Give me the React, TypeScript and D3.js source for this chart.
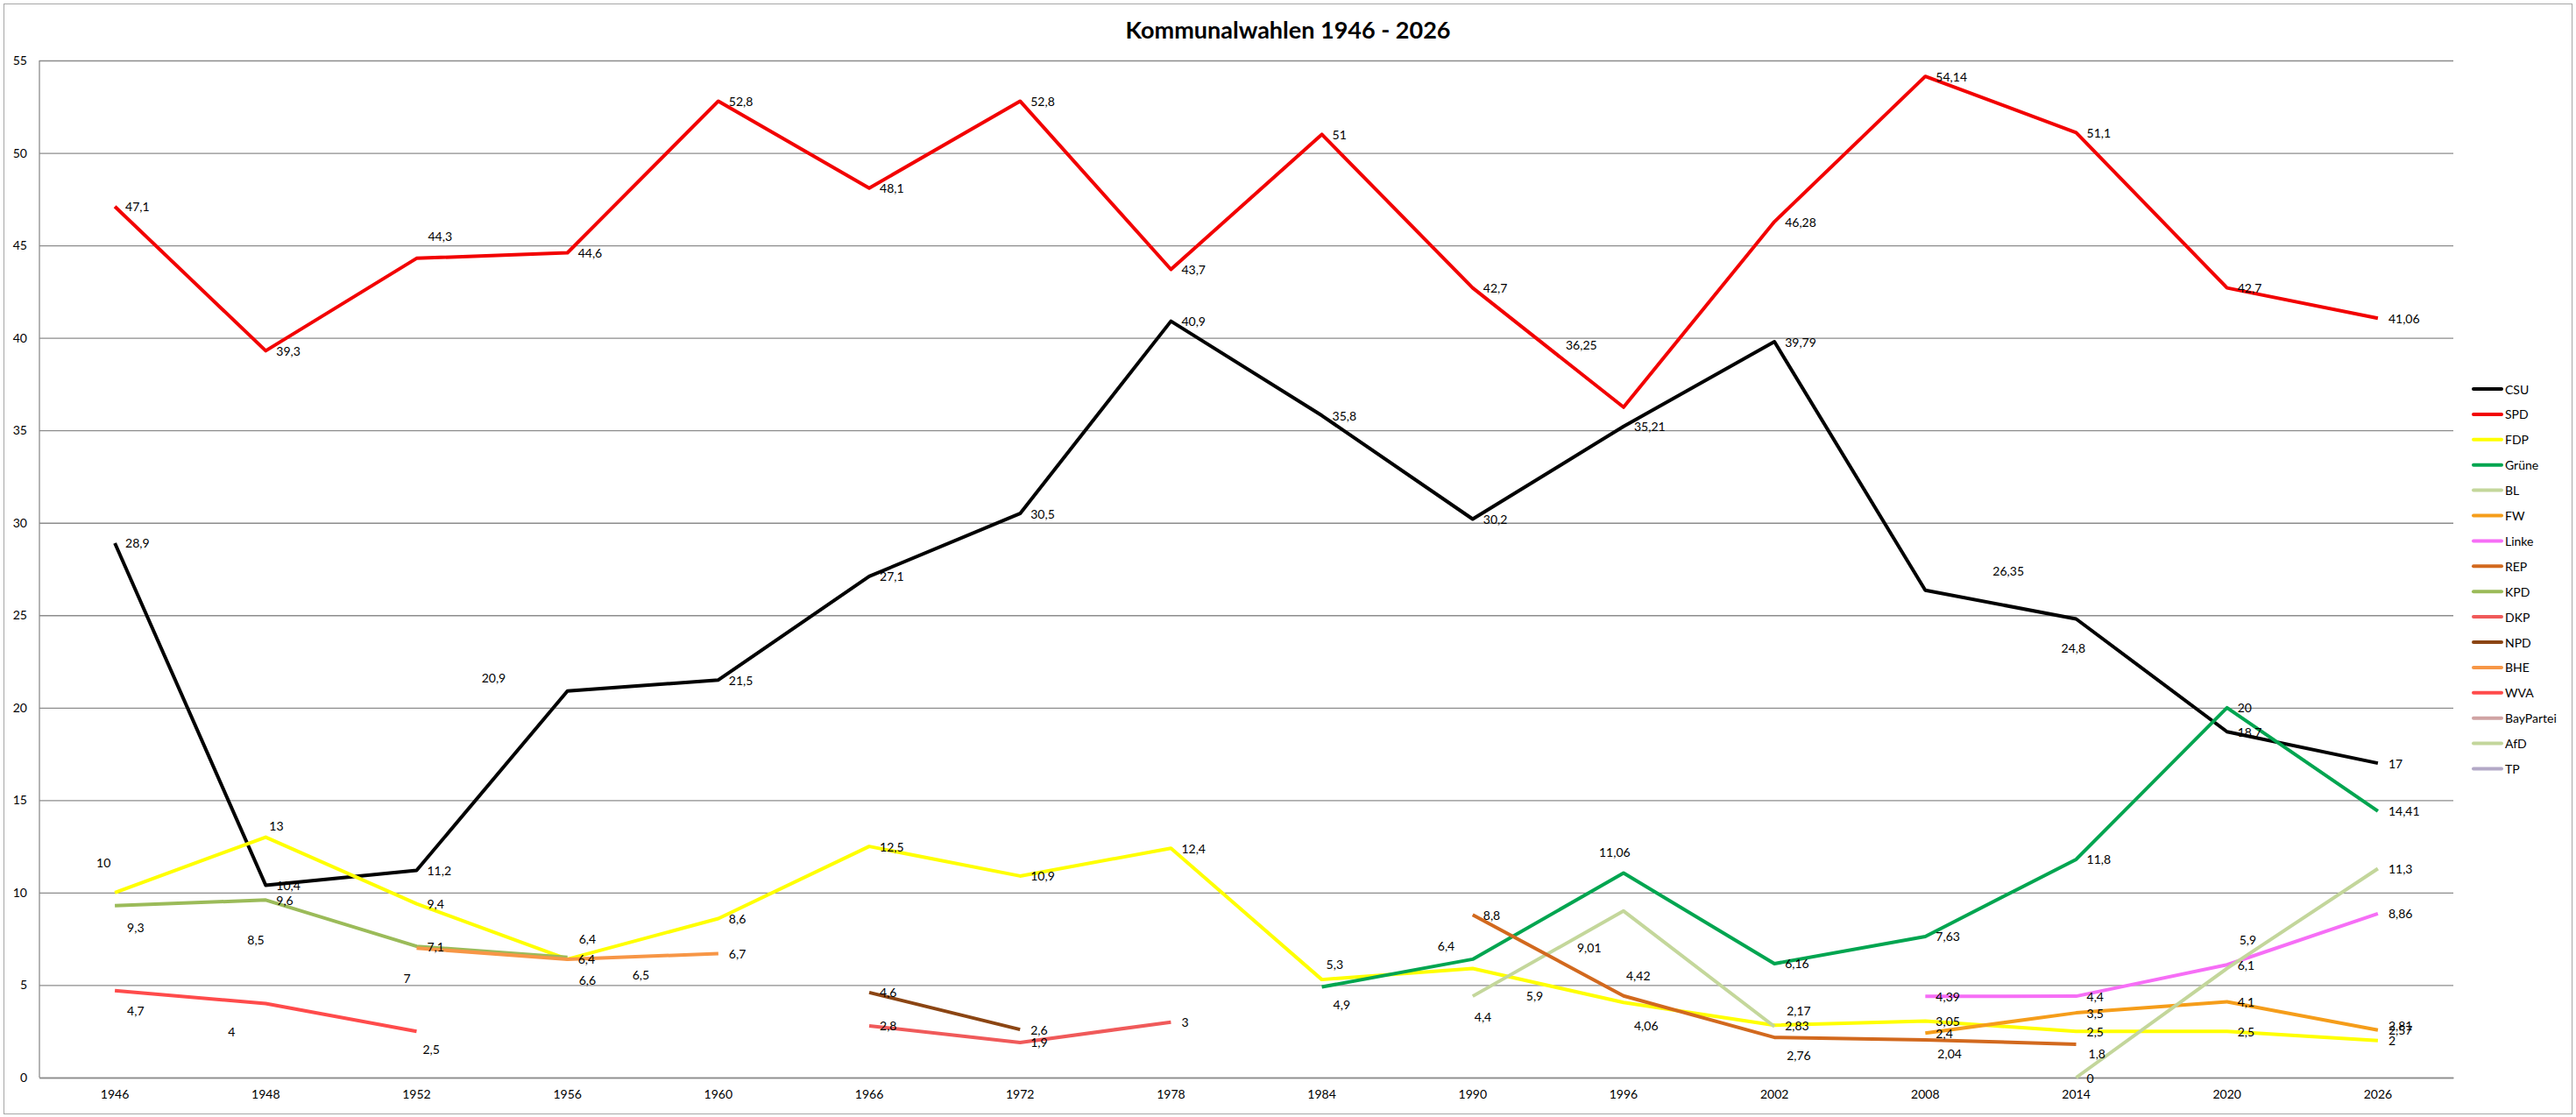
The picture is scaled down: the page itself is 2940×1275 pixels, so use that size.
import { useEffect, useRef } from 'react';
import * as d3 from 'd3';

const YEARS = ['1946', '1948', '1952', '1956', '1960', '1966', '1972', '1978', '1984', '1990', '1996', '2002', '2008', '2014', '2020', '2026'];
const Y_TICKS = [0, 5, 10, 15, 20, 25, 30, 35, 40, 45, 50, 55];

type V = number | null;
const _ = null;

const CSU: V[] = [28.9, 10.4, 11.2, 20.9, 21.5, 27.1, 30.5, 40.9, 35.8, 30.2, 35.21, 39.79, 26.35, 24.8, 18.7, 17];
const SPD: V[] = [47.1, 39.3, 44.3, 44.6, 52.8, 48.1, 52.8, 43.7, 51, 42.7, 36.25, 46.28, 54.14, 51.1, 42.7, 41.06];
const FDP: V[] = [10, 13, 9.4, 6.4, 8.6, 12.5, 10.9, 12.4, 5.3, 5.9, 4.06, 2.83, 3.05, 2.5, 2.5, 2];
const GRUENE: V[] = [_, _, _, _, _, _, _, _, 4.9, 6.4, 11.06, 6.16, 7.63, 11.8, 20, 14.41];
const BL: V[] = [_, _, _, _, _, _, _, _, _, 4.4, 9.01, 2.76, _, _, _, _];
const FW: V[] = [_, _, _, _, _, _, _, _, _, _, _, _, 2.4, 3.5, 4.1, 2.57];
const LINKE: V[] = [_, _, _, _, _, _, _, _, _, _, _, _, 4.39, 4.4, 6.1, 8.86];
const REP: V[] = [_, _, _, _, _, _, _, _, _, 8.8, 4.42, 2.17, 2.04, 1.8, _, _];
const KPD: V[] = [9.3, 9.6, 7.1, 6.5, _, _, _, _, _, _, _, _, _, _, _, _];
const DKP: V[] = [_, _, _, _, _, 2.8, 1.9, 3, _, _, _, _, _, _, _, _];
const NPD: V[] = [_, _, _, _, _, 4.6, 2.6, _, _, _, _, _, _, _, _, _];
const BHE: V[] = [_, _, 7, 6.4, 6.7, _, _, _, _, _, _, _, _, _, _, _];
const WVA: V[] = [4.7, 4, 2.5, _, _, _, _, _, _, _, _, _, _, _, _, _];
const BAYPARTEI: V[] = [_, 8.5, _, 6.6, _, _, _, _, _, _, _, _, _, _, _, _];
const AFD: V[] = [_, _, _, _, _, _, _, _, _, _, _, _, _, 0, 5.9, 11.3];
const TP: V[] = [_, _, _, _, _, _, _, _, _, _, _, _, _, _, _, 2.81];

const SERIES: { name: string; color: string; values: V[] }[] = [
  { name: 'CSU', color: '#000000', values: CSU },
  { name: 'SPD', color: '#f20000', values: SPD },
  { name: 'FDP', color: '#ffff00', values: FDP },
  { name: 'Grüne', color: '#00a550', values: GRUENE },
  { name: 'BL', color: '#c4d79b', values: BL },
  { name: 'FW', color: '#f59d1a', values: FW },
  { name: 'Linke', color: '#f66ef6', values: LINKE },
  { name: 'REP', color: '#d2691e', values: REP },
  { name: 'KPD', color: '#9bbb59', values: KPD },
  { name: 'DKP', color: '#f05a5a', values: DKP },
  { name: 'NPD', color: '#8b4513', values: NPD },
  { name: 'BHE', color: '#f79646', values: BHE },
  { name: 'WVA', color: '#ff4b4b', values: WVA },
  { name: 'BayPartei', color: '#d0a3a3', values: BAYPARTEI },
  { name: 'AfD', color: '#c3d69b', values: AFD },
  { name: 'TP', color: '#b3a9c7', values: TP },
];

// hand-placed data labels (offset of the label start from the point), default is right of the point
const LABEL_OFFSETS: Record<string, [number, number]> = {
  'SPD|1952': [13, -25],
  'SPD|1996': [-66, -71],
  'CSU|1956': [-98, -15],
  'CSU|2008': [77, -22],
  'CSU|2014': [-17, 33],
  'FDP|1946': [-21, -34],
  'FDP|1948': [4, -13],
  'FDP|1956': [13, -23],
  'FDP|1984': [5, -18],
  'FDP|1990': [61, 31],
  'FDP|1996': [12, 26],
  'Grüne|1984': [13, 20],
  'Grüne|1990': [-40, -15],
  'Grüne|1996': [-28, -24],
  'BL|1990': [2, 23],
  'BL|1996': [-53, 42],
  'BL|2002': [14, 33],
  'REP|1996': [3, -23],
  'REP|2002': [14, -31],
  'REP|2008': [14, 16],
  'REP|2014': [14, 10],
  'AfD|2020': [14, -33],
  'KPD|1946': [14, 25],
  'KPD|1956': [74, 20],
  'BayPartei|1948': [-21, 22],
  'BayPartei|1956': [13, 28],
  'BHE|1952': [-15, 34],
  'WVA|1946': [14, 23],
  'WVA|1948': [-43, 32],
  'WVA|1952': [7, 20],
};

const FONT = 'Lato, Carlito, Calibri, sans-serif';

export default function App() {
  const svgRef = useRef<SVGSVGElement>(null);

  useEffect(() => {
    document.body.style.margin = '0';
    if (!svgRef.current) return;

    const width = 2940;
    const height = 1275;
    const margin = { top: 69, right: 140, bottom: 45, left: 45 };
    const innerWidth = width - margin.left - margin.right;
    const innerHeight = height - margin.top - margin.bottom;

    const svg = d3.select(svgRef.current);
    svg.selectAll('*').remove();

    svg.append('rect')
      .attr('width', width).attr('height', height).attr('fill', '#ffffff');
    svg.append('rect')
      .attr('x', 4.5).attr('y', 4.5).attr('width', width - 9).attr('height', height - 8)
      .attr('fill', 'none').attr('stroke', '#a6a6a6').attr('stroke-width', 1);

    const x = d3.scaleBand().domain(YEARS).range([0, innerWidth]);
    const y = d3.scaleLinear().domain([0, 55]).range([innerHeight, 0]);
    const cx = (yr: string) => (x(yr) || 0) + x.bandwidth() / 2;

    const g = svg.append('g').attr('transform', `translate(${margin.left},${margin.top})`);

    g.append('g')
      .call(d3.axisLeft(y).tickValues(Y_TICKS).tickSize(-innerWidth).tickPadding(14))
      .call(g => g.select('.domain').remove())
      .call(g => g.selectAll('.tick line').attr('stroke', '#8c8c8c').attr('stroke-width', 1.3))
      .call(g => g.selectAll('.tick text').attr('fill', '#000').attr('font-size', 14).attr('font-family', FONT));

    g.append('line')
      .attr('x1', 0).attr('x2', 0).attr('y1', 0).attr('y2', innerHeight)
      .attr('stroke', '#8c8c8c').attr('stroke-width', 1.3);

    g.append('g')
      .attr('transform', `translate(0,${innerHeight})`)
      .call(d3.axisBottom(x).tickSize(0).tickPadding(14))
      .call(g => g.select('.domain').attr('stroke', '#8c8c8c').attr('stroke-width', 1.3))
      .call(g => g.selectAll('.tick text').attr('fill', '#000').attr('font-size', 14).attr('font-family', FONT));

    const line = d3.line<V>()
      .defined(d => d != null)
      .x((_d, i) => cx(YEARS[i]))
      .y(d => y(d as number));

    g.selectAll('path.series').data(SERIES).join('path')
      .attr('class', 'series')
      .attr('d', s => line(s.values))
      .attr('fill', 'none')
      .attr('stroke', s => s.color)
      .attr('stroke-width', 4)
      .attr('stroke-linejoin', 'round')
      .attr('stroke-linecap', 'butt');

    const labels = SERIES.flatMap(s => s.values
      .map((v, i) => ({ name: s.name, year: YEARS[i], v }))
      .filter(d => d.v != null));

    g.selectAll('text.lbl').data(labels).join('text')
      .attr('class', 'lbl')
      .attr('x', d => cx(d.year) + (LABEL_OFFSETS[`${d.name}|${d.year}`] || [12, 0])[0])
      .attr('y', d => y(d.v as number) + (LABEL_OFFSETS[`${d.name}|${d.year}`] || [12, 0])[1])
      .attr('dominant-baseline', 'central')
      .attr('font-size', 14).attr('font-family', FONT).attr('fill', '#000')
      .text(d => String(d.v).replace('.', ','));

    svg.append('text')
      .attr('x', width / 2).attr('y', 33)
      .attr('text-anchor', 'middle').attr('dominant-baseline', 'central')
      .attr('font-size', 27).attr('font-weight', 'bold').attr('font-family', FONT)
      .text('Kommunalwahlen 1946 - 2026');

    const legend = svg.append('g').attr('transform', 'translate(2823,444)');
    const items = legend.selectAll('g').data(SERIES).join('g')
      .attr('transform', (_d, i) => `translate(0,${i * 28.9})`);
    items.append('line')
      .attr('x1', 0).attr('x2', 32)
      .attr('stroke', d => d.color).attr('stroke-width', 4).attr('stroke-linecap', 'round');
    items.append('text')
      .attr('x', 36).attr('dominant-baseline', 'central')
      .attr('font-size', 14).attr('font-family', FONT)
      .text(d => d.name);
  }, []);

  return <svg ref={svgRef} width={2940} height={1275} style={{ display: 'block' }} />;
}
